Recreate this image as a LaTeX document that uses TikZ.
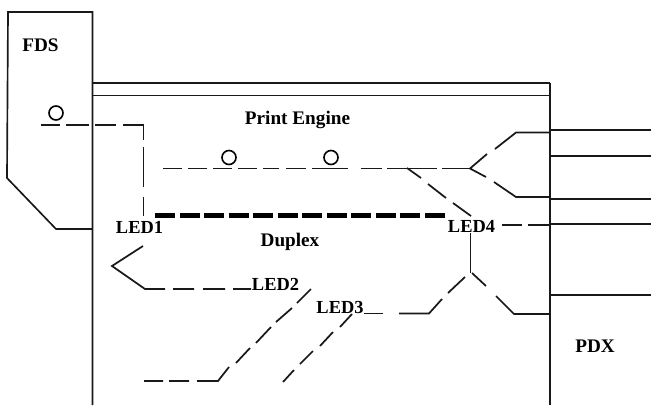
\documentclass[tikz,border=0pt]{standalone}
\usepackage{fontspec}
\setmainfont{Liberation Serif}
\tikzset{
  wire/.style={line width=1.3pt,line cap=butt,black!90},
  frame/.style={line width=1.25pt,black!90},
  heavy/.style={line width=2.1pt,black!90},
  hint/.style={line width=3.5pt,black,dash pattern=on 15pt off 3.4pt},
  sensor/.style={circle,draw,line width=1.2pt,inner sep=0pt,minimum size=10.5pt},
  boldlabel/.style={font=\bfseries\fontsize{14.4}{15}\selectfont,inner sep=0pt},
  ledlabel/.style={font=\bfseries\fontsize{13.8}{14}\selectfont,inner sep=0pt}
}
\begin{document}
\begin{tikzpicture}[x=0.75pt,y=-0.75pt]
\useasboundingbox (0,0) rectangle (651,405);
% frames
\draw[frame] (92.5,405) -- (92.5,12) -- (8,12) -- (7,178) -- (56,229) -- (92.5,229);
\draw[frame] (92.5,83) -- (550,83);
\draw[frame] (92.5,95.5) -- (550,95.5);
\draw[frame] (550,83) -- (550,405);
\draw[heavy] (550,130) -- (550,230);
\draw[heavy] (550,295) -- (550,405);
\draw[frame] (550,130) -- (651,130);
\draw[frame] (550,156) -- (651,156);
\draw[frame] (550,199) -- (651,199);
\draw[frame] (550,224) -- (651,224);
\draw[frame] (550,295) -- (651,295);
% sensors
\node[sensor] (s1) at (56,113) {};
\node[sensor] (s2) at (229,157.5) {};
\node[sensor] (s3) at (331,157.5) {};
% labels
\node[boldlabel] (fds) at (40.5,45) {FDS};
\node[boldlabel] (pe) at (297.5,120) {Print Engine};
\node[boldlabel] (dup) at (290,242) {Duplex};
\node[boldlabel] (pdx) at (595,346.5) {PDX};
\node[ledlabel] (led1) at (139.5,227) {LED1};
\node[ledlabel] (led2) at (275.5,284.5) {LED2};
\node[ledlabel] (led3) at (340,307) {LED3};
\node[ledlabel] (led4) at (471.5,226) {LED4};
% thick duplex path
\draw[hint] (155,215.5) -- (447,215.5);
% upper left path
\draw[wire] (41,125)--(60,125) (66,125)--(89,125) (95,125)--(116,125)
  (123,125)--(143.5,125)--(143.5,140) (143.5,147)--(143.5,187) (143.5,197)--(143.5,216);
% print path
\draw[wire] (163,168.5)--(182,168.5) (188,168.5)--(207,168.5) (213,168.5)--(232,168.5)
  (238,168.5)--(257,168.5) (263,168.5)--(279,168.5) (286,168.5)--(306,168.5)
  (312,168.5)--(348,168.5) (361,168.5)--(382,168.5) (387,168.5)--(437,168.5) (442,168.5)--(470,168.5);
\draw[wire] (487,154)--(470,168.5)--(486,177);
\draw[wire] (495,149)--(516,132.5)--(550,132.5);
\draw[wire] (494,182)--(516,197)--(550,197);
\draw[wire] (407,168)--(421,178) (428,184)--(446,198) (453,203)--(471,216);
\draw[wire] (502,225)--(522,225) (528,225)--(549,225);
% LED4 lower
\draw[wire] (470.5,233)--(470.5,273);
\draw[wire] (465,277)--(448,293) (442,299)--(429,313.5)--(399,313.5);
\draw[wire] (472,273)--(486,286) (496,296)--(514,314)--(549,314);
% LED1 lower
\draw[wire] (143,246)--(112,266)--(145,289)--(165,289) (173,289)--(194,289) (203,289)--(225,289) (233,289)--(251,289);
% LED2 diagonal
\draw[wire] (311,289)--(297,303) (292,308)--(276,322) (271,327)--(256,343) (250,348)--(236,363)
  (229,367)--(218,381)--(197,381) (189,381)--(169,381) (163,381)--(144,381);
% LED3 diagonal
\draw[wire] (364,313.5)--(383,313.5);
\draw[wire] (352,314)--(340,327) (333,332)--(320,346) (313,351)--(300,364) (294,370)--(283,382);
\end{tikzpicture}
\end{document}
